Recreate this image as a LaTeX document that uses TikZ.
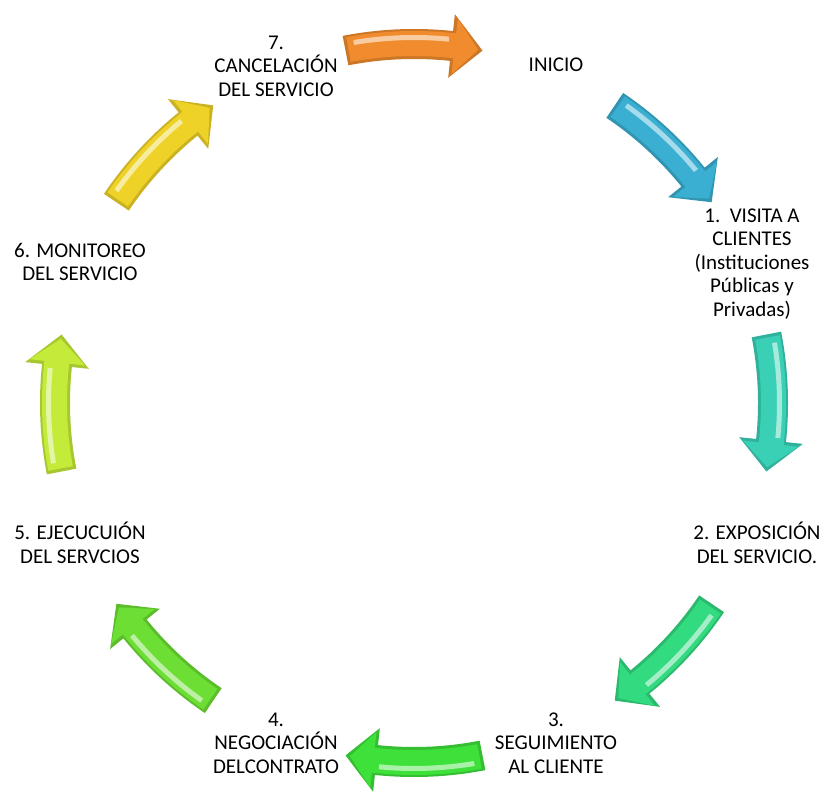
\documentclass[tikz,border=0pt]{standalone}
\usepackage{fontspec}
\setmainfont{Carlito}
\usepackage{tikz}
\tikzset{paso/.style={align=center, inner sep=0pt, font=\fontsize{21}{23.6}\selectfont}}
\definecolor{naranja}{RGB}{240,140,45}
\definecolor{celeste}{RGB}{58,175,210}
\definecolor{turquesa}{RGB}{58,208,182}
\definecolor{verdeagua}{RGB}{50,218,128}
\definecolor{verde}{RGB}{62,224,58}
\definecolor{verdeclaro}{RGB}{108,222,52}
\definecolor{limon}{RGB}{196,234,58}
\definecolor{amarillo}{RGB}{238,210,40}
% curved block arrow on the ring: #1 = middle angle, #2 = colour
\newcommand{\flecha}[2]{%
\fill[#2!85!black] ({#1+11}:374) arc[start angle={#1+11}, end angle={#1-6}, radius=374]
  -- ({#1-6}:391) -- ({#1-11}:359) -- ({#1-6}:327) -- ({#1-6}:344)
  arc[start angle={#1-6}, end angle={#1+11}, radius=344] -- cycle;
\fill[#2] ({#1+10.5}:372) arc[start angle={#1+10.5}, end angle={#1-6.5}, radius=372]
  -- ({#1-6.5}:387) -- ({#1-10.3}:359) -- ({#1-6.5}:331)
  -- ({#1-6.5}:347) arc[start angle={#1-6.5}, end angle={#1+10.5}, radius=347] -- cycle;
\fill[#2!45!white] ({#1+9.5}:368) arc[start angle={#1+9.5}, end angle={#1-5.5}, radius=368]
  -- ({#1-5.5}:363) arc[start angle={#1-5.5}, end angle={#1+9.5}, radius=363] -- cycle;
}

\begin{document}
\begin{tikzpicture}[x=1pt, y=1pt]
\useasboundingbox (0,0) rectangle (821,796);

\node[paso] (n0) at (556,731) {INICIO};
\node[paso] (n1) at (752,532) {1.~~VISITA A\\CLIENTES\\(Instituciones\\Públicas y\\Privadas)};
\node[paso] (n2) at (757,253) {2. EXPOSICIÓN\\DEL SERVICIO.};
\node[paso] (n3) at (556,53) {3.\\SEGUIMIENTO\\AL CLIENTE};
\node[paso] (n4) at (276,53) {4.\\NEGOCIACIÓN\\DELCONTRATO};
\node[paso] (n5) at (80,253) {5. EJECUCUIÓN\\DEL SERVCIOS};
\node[paso] (n6) at (80,534) {6. MONITOREO\\DEL SERVICIO};
\node[paso] (n7) at (276,730) {7.\\CANCELACIÓN\\DEL SERVICIO};

\begin{scope}[shift={(414,393)}]
\flecha{90}{naranja}
\flecha{45}{celeste}
\flecha{0}{turquesa}
\flecha{-45}{verdeagua}
\flecha{-90}{verde}
\flecha{-135}{verdeclaro}
\flecha{180}{limon}
\flecha{135}{amarillo}
\end{scope}
\end{tikzpicture}
\end{document}
